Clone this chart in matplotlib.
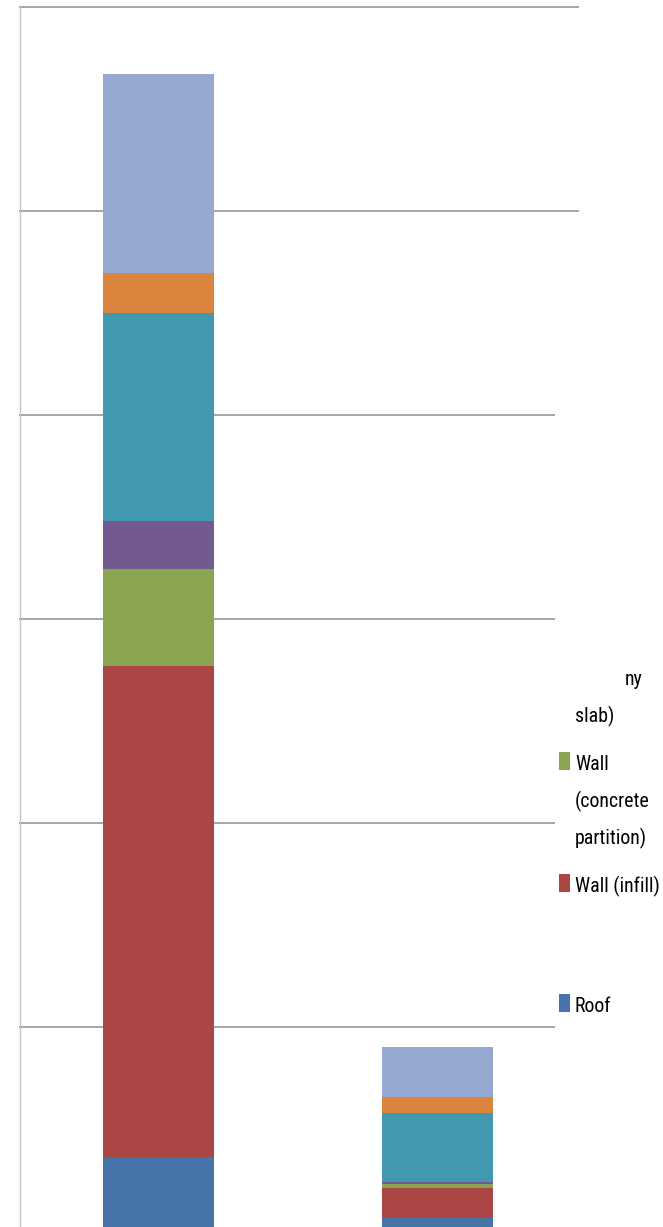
import matplotlib
matplotlib.use("Agg")
import matplotlib.pyplot as plt
from matplotlib.patches import Rectangle
from matplotlib import font_manager
from matplotlib.font_manager import FontProperties
import numpy as np

# ---- data -------------------------------------------------------------
categories = ["Building A", "Building B"]
series_names = [
    "Roof",
    "Wall (infill)",
    "Wall (concrete partition)",
    "Floor (masonry slab)",
    "Floor (concrete slab)",
    "Column",
    "Beam",
]
roof = [18.1, 3.2]
wall_infill = [120.5, 7.4]
wall_concrete = [23.7, 1.0]
floor_masonry = [11.8, 0.5]
floor_concrete = [51.0, 16.8]
column = [9.8, 4.0]
beam = [48.8, 12.3]
series_values = [roof, wall_infill, wall_concrete, floor_masonry,
                 floor_concrete, column, beam]
series_colors = ["#4673a8", "#aa4644", "#8aa54f", "#725a90",
                 "#4298ae", "#db843d", "#95a9d0"]
y_ticks = [0, 50, 100, 150, 200, 250, 300]

# wrapped legend lines that are visible in the legend box
legend_entries = [
    (3, ["ny", "slab)"], False),
    (2, ["Wall", "(concrete", "partition)"], True),
    (1, ["Wall (infill)"], True),
    (0, ["Roof"], True),
]


def pick_narrow_font():
    """Return FontProperties for a narrow sans face if one is installed."""
    wanted = ["Liberation Sans Narrow", "Roboto Condensed",
              "Open Sans Condensed", "Noto Sans Condensed"]
    names = {f.name: f for f in font_manager.fontManager.ttflist}
    for w in wanted:
        if w in names:
            return FontProperties(family=w)
    for f in font_manager.fontManager.ttflist:
        if (f.stretch in ("condensed", "semi-condensed", "extra-condensed")
                and f.style == "normal" and f.weight in (400, "normal")
                and "Sans" in f.name):
            return FontProperties(fname=f.fname)
    return FontProperties(family="Liberation Sans")


# ---- figure -----------------------------------------------------------
W, H = 663, 1227
fig = plt.figure(figsize=(W / 100, H / 100), dpi=100)
fig.patch.set_facecolor("white")


def fx(px):
    return px / W


def fy(py):
    return 1 - py / H


ax = fig.add_axes([fx(20), fy(1231), fx(578) - fx(20), fy(7) - fy(1231)])
ax.set_xlim(-0.4965, 1.5035)
ax.set_ylim(y_ticks[0], y_ticks[-1])
for s in ["top", "right", "bottom"]:
    ax.spines[s].set_visible(False)
ax.spines["left"].set_color("#c4c4c4")
ax.spines["left"].set_linewidth(1.0)
ax.tick_params(length=0, labelleft=False, labelbottom=False)
ax.set_xticks([])
ax.set_yticks([])

for t in y_ticks[1:]:
    ax.axhline(t, color="#a6a6a6", linewidth=1.4, zorder=1, clip_on=False)

x = np.arange(len(categories))
bottom = np.zeros(len(categories))
for vals, col in zip(series_values, series_colors):
    ax.bar(x, vals, bottom=bottom, width=0.398, color=col, linewidth=0,
           zorder=2)
    bottom += np.array(vals)

# legend area: white box over the right part of the plot
fig.add_artist(Rectangle((fx(555), fy(H)), fx(W) - fx(555), fy(300) - fy(H),
                         transform=fig.transFigure, facecolor="white",
                         edgecolor="none", zorder=5))

# size the legend font so the longest single line spans ~85 px
fp = pick_narrow_font()
renderer = fig.canvas.get_renderer()
probe = fig.text(0, 0, "Wall (infill)", fontproperties=fp, fontsize=15)
w15 = probe.get_window_extent(renderer).width
probe.remove()
legend_size = min(16.0, 15 * 85.0 / w15)
fp.set_size(legend_size)

first_baselines = [685, 770, 892, 1012]
line_step = 37
for (idx, lines, show_marker), base in zip(legend_entries, first_baselines):
    for k, line in enumerate(lines):
        xpos = 625 if (idx == 3 and k == 0) else 575
        fig.text(fx(xpos), fy(base + k * line_step), line, fontproperties=fp,
                 va="baseline", ha="left", color="black", zorder=6)
    if show_marker:
        fig.add_artist(Rectangle((fx(559), fy(base)), 11 / W, 18 / H,
                                 transform=fig.transFigure,
                                 facecolor=series_colors[idx],
                                 edgecolor="none", zorder=6))

fig.savefig("out.png", dpi=100)
